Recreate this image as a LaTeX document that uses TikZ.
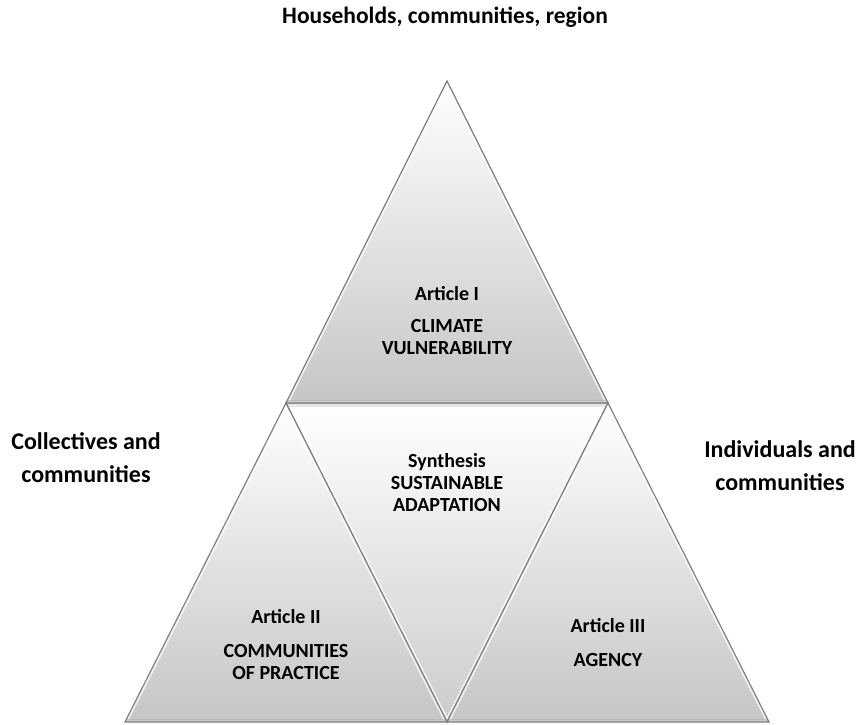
\documentclass[tikz,border=0pt]{standalone}
\usepackage{fontspec}
\setmainfont{Carlito}
\usetikzlibrary{calc}
\newcommand\bevtri[3]{%
  \path[tri] (#1) -- (#2) -- (#3) -- cycle;
  \begin{scope}
    \clip (#1) -- (#2) -- (#3) -- cycle;
    \draw[white,line width=5pt,opacity=.7] (#1) -- (#2) -- (#3) -- cycle;
    \draw[black!45,line width=7pt,opacity=.35] (#2) -- (#3);
  \end{scope}
  \draw[triedge] (#1) -- (#2) -- (#3) -- cycle;
}
\begin{document}
\begin{tikzpicture}[x=1pt,y=-1pt,
  tri/.style={top color=white,bottom color=gray!45},
  midtri/.style={top color=white,bottom color=gray!40},
  triedge/.style={draw=black!50,line width=1.2pt,line join=miter},
  lbl/.style={font=\bfseries\fontsize{24}{33}\selectfont,align=center,inner sep=0pt},
  ttl/.style={font=\bfseries\fontsize{23.5}{27}\selectfont,inner sep=0pt},
  inlbl/.style={font=\bfseries\fontsize{20}{22}\selectfont,align=center,inner sep=0pt}
]
\useasboundingbox (0,0) rectangle (863,725);
\coordinate (T) at (447,81);
\coordinate (L) at (286,403);
\coordinate (R) at (608,403);
\coordinate (BL) at (125,722);
\coordinate (BM) at (447,722);
\coordinate (BR) at (769,722);

% middle inverted triangle
\path[midtri] (L) -- (R) -- (BM) -- cycle;
\begin{scope}
  \clip (L) -- (R) -- (BM) -- cycle;
  \draw[white,line width=5pt,opacity=.7] (L) -- (R) -- (BM) -- cycle;
  \draw[black!30,line width=8pt,opacity=.3] (L) -- (R);
\end{scope}
\draw[triedge] (L) -- (R) -- (BM) -- cycle;

\bevtri{T}{L}{R}
\bevtri{L}{BL}{BM}
\bevtri{R}{BM}{BR}

\node[ttl] (title) at (445,17) {Households, communities, region};
\node[lbl] (left) at (86,458) {Collectives and\\communities};
\node[lbl] (right) at (780,466) {Individuals and\\communities};
\node[inlbl] (a1) at (447,321) {Article I\\[10pt]CLIMATE\\VULNERABILITY};
\node[inlbl] (syn) at (447,483) {Synthesis\\SUSTAINABLE\\ADAPTATION};
\node[inlbl] (a2) at (286,645) {Article II\\[12pt]COMMUNITIES\\OF PRACTICE};
\node[inlbl] (a3) at (608,643) {Article III\\[12pt]AGENCY};
\end{tikzpicture}
\end{document}
